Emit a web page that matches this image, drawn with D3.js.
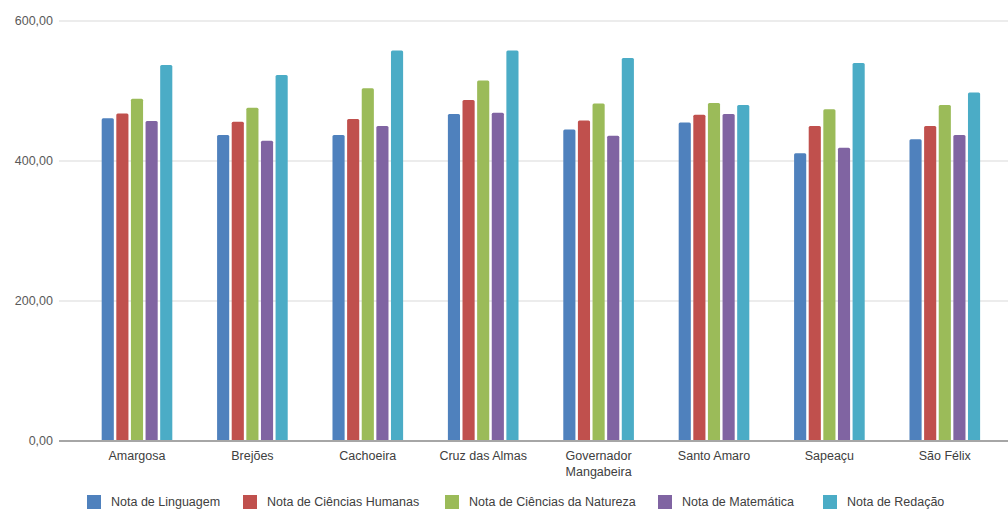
<!DOCTYPE html>
<html><head><meta charset="utf-8">
<script src="https://cdn.jsdelivr.net/npm/d3@7"></script>
<style>
html,body{margin:0;padding:0;background:#fff;}
svg{display:block;font-family:"Liberation Sans","Open Sans",sans-serif;}
</style></head>
<body>
<svg id="c" width="1008" height="510"></svg>
<script>
const categories = ["Amargosa","Brejões","Cachoeira","Cruz das Almas","Governador Mangabeira","Santo Amaro","Sapeaçu","São Félix"];
const seriesNames = ["Nota de Linguagem","Nota de Ciências Humanas","Nota de Ciências da Natureza","Nota de Matemática","Nota de Redação"];
const linguagem = [461,437,437,467,445,455,411,431];
const humanas   = [468,456,460,487,458,466,450,450];
const natureza  = [489,476,504,515,482,483,474,480];
const matematica= [457,429,450,469,436,467,419,437];
const redacao   = [537,523,558,558,547,480,540,498];
const yTicks = [0,200,400,600];
const colors = ["#4F81BD","#C0504D","#9BBB59","#8064A2","#4BACC6"];

const values = [linguagem,humanas,natureza,matematica,redacao];
const svg = d3.select("#c");
const y = d3.scaleLinear().domain([0,600]).range([441,21]);
const x0 = d3.scaleBand().domain(categories).range([79.3,1002.5]).paddingInner(0.388).paddingOuter(0.194);
const x1 = d3.scaleBand().domain(seriesNames).range([0,x0.bandwidth()]).paddingInner(0.17);
const fmt = d3.formatLocale({decimal:",",thousands:".",grouping:[3],currency:["R$",""]}).format(".2f");

// gridlines
svg.append("g").selectAll("line").data(yTicks.filter(d=>d>0)).join("line")
  .attr("x1",59).attr("x2",1008).attr("y1",d=>y(d)).attr("y2",d=>y(d))
  .attr("stroke","#d9d9d9").attr("stroke-width",1.2);
// y tick labels
svg.append("g").selectAll("text").data(yTicks).join("text")
  .attr("x",53).attr("y",d=>y(d)).attr("dy","0.35em").attr("text-anchor","end")
  .attr("font-size",12.5).attr("fill","#595959").text(d=>fmt(d));

// bars
const g = svg.append("g");
categories.forEach((c,ci)=>{
  seriesNames.forEach((s,si)=>{
    const v = values[si][ci];
    g.append("rect")
      .attr("x",x0(c)+x1(s)).attr("width",x1.bandwidth())
      .attr("y",y(v)).attr("height",y(0)-y(v))
      .attr("rx",1.5)
      .attr("fill",colors[si]);
  });
});
// baseline
svg.append("line").attr("x1",59).attr("x2",1008).attr("y1",y(0)).attr("y2",y(0))
  .attr("stroke","#a6a6a6").attr("stroke-width",2);

// category labels
const lab = svg.append("g");
categories.forEach(c=>{
  const cx = x0(c)+x0.bandwidth()/2;
  const words = c==="Governador Mangabeira" ? ["Governador","Mangabeira"] : [c];
  words.forEach((w,i)=>{
    lab.append("text").attr("x",cx).attr("y",460+i*16)
      .attr("text-anchor","middle").attr("font-size",12.5).attr("fill","#404040").text(w);
  });
});

// legend
const legX = [87,243,445,658,823];
const leg = svg.append("g");
seriesNames.forEach((s,i)=>{
  leg.append("rect").attr("x",legX[i]).attr("y",495).attr("width",14).attr("height",14).attr("fill",colors[i]);
  leg.append("text").attr("x",legX[i]+24).attr("y",506).attr("font-size",12.5).attr("fill","#404040").text(s);
});
</script>
</body></html>
